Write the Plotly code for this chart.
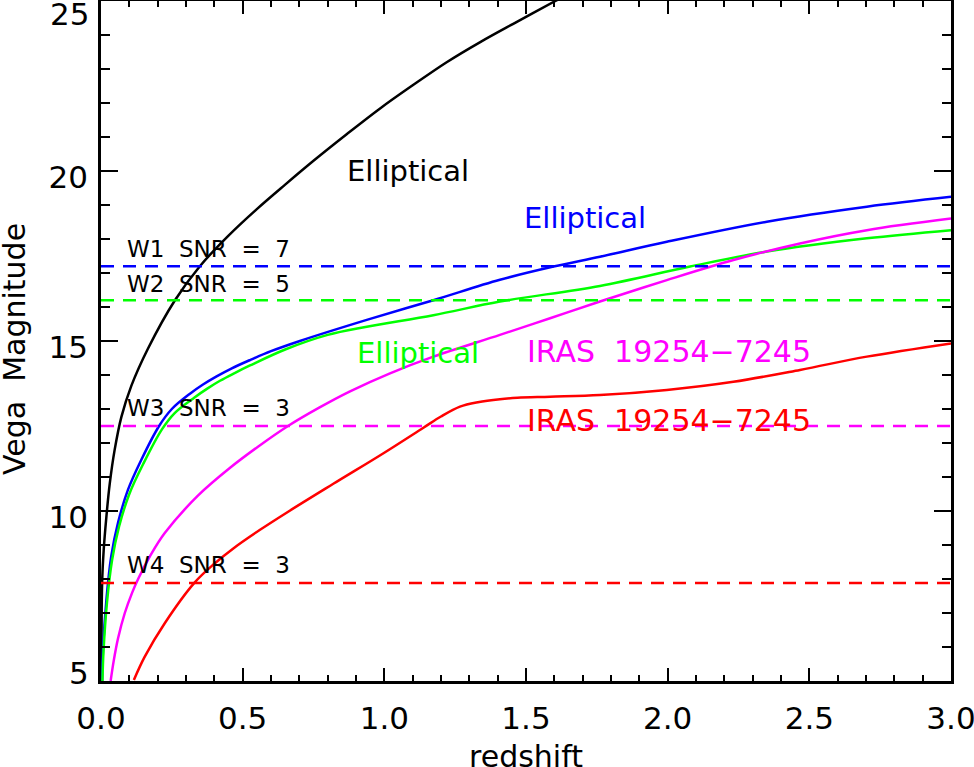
import plotly.graph_objects as go

# redshift / Vega magnitude tracks
black_z = [0.0015, 0.004, 0.0095, 0.019, 0.031, 0.048, 0.072, 0.107, 0.166, 0.261, 0.349, 0.45,
           0.55, 0.65, 0.75, 0.867, 0.985, 1.1, 1.22, 1.34, 1.455, 1.597, 1.70]
black_m = [5.0, 7.9, 8.85, 9.83, 10.81, 11.79, 12.77, 13.68, 14.78, 16.2, 17.2, 18.1,
           18.88, 19.6, 20.3, 21.08, 21.84, 22.52, 23.2, 23.8, 24.33, 24.97, 25.43]

blue_z = [0.004, 0.007, 0.019, 0.036, 0.06, 0.095, 0.142, 0.205, 0.25, 0.314, 0.36, 0.408,
          0.46, 0.526, 0.6, 0.702, 0.938, 1.173, 1.408, 1.597, 1.761, 1.997, 2.35, 2.703, 3.0]
blue_m = [5.0, 5.9, 7.38, 8.66, 9.65, 10.62, 11.5, 12.5, 13.0, 13.45, 13.72, 13.96,
          14.19, 14.44, 14.7, 15.0, 15.62, 16.2, 16.8, 17.19, 17.48, 17.92, 18.51, 18.95, 19.24]

green_z = [0.005, 0.009, 0.021, 0.039, 0.064, 0.1, 0.15, 0.215, 0.26, 0.33, 0.375, 0.42,
           0.47, 0.526, 0.65, 0.8, 0.938, 1.173, 1.408, 1.761, 2.079, 2.35, 2.703, 3.0]
green_m = [5.0, 5.9, 7.3, 8.55, 9.55, 10.5, 11.4, 12.4, 12.88, 13.34, 13.6, 13.83,
           14.05, 14.28, 14.75, 15.18, 15.42, 15.76, 16.16, 16.62, 17.19, 17.63, 18.02, 18.26]

magenta_z = [0.034, 0.045, 0.06, 0.084, 0.11, 0.131, 0.175, 0.225, 0.342, 0.46, 0.554, 0.66,
             0.77, 0.879, 1.02, 1.173, 1.408, 1.585, 1.761, 1.997, 2.232, 2.467, 2.703, 3.0]
magenta_m = [5.0, 5.6, 6.25, 7.0, 7.6, 8.0, 8.7, 9.35, 10.45, 11.3, 11.89, 12.5,
             13.04, 13.52, 14.05, 14.54, 15.18, 15.67, 16.16, 16.79, 17.38, 17.87, 18.26, 18.6]

red_z = [0.116, 0.154, 0.225, 0.331, 0.4, 0.467, 0.56, 0.655, 0.82, 0.997, 1.138, 1.2,
         1.267, 1.33, 1.408, 1.47, 1.585, 1.761, 1.997, 2.232, 2.467, 2.703, 3.0]
red_m = [5.03, 5.71, 6.7, 7.9, 8.45, 8.9, 9.44, 9.95, 10.8, 11.7, 12.45, 12.78,
         13.07, 13.2, 13.29, 13.33, 13.36, 13.41, 13.56, 13.8, 14.15, 14.54, 14.93]

# detection limits (W1..W4)
snr_labels = ["W1  SNR  =  7", "W2  SNR  =  5", "W3  SNR  =  3", "W4  SNR  =  3"]
snr_limits = [17.2, 16.2, 12.5, 7.88]
snr_colors = ["#0000ff", "#00ff00", "#ff00ff", "#ff0000"]

# y tick labels; the two end labels are nudged inside the frame like the original
y_ticks = [5, 10, 15, 20, 25]
y_tick_text = ["5", "10", "15", "20", "25"]

x_range = [0, 3]

fig = go.Figure()

curves = [
    (black_z, black_m, "black"),
    (blue_z, blue_m, "#0000ff"),
    (green_z, green_m, "#00ff00"),
    (magenta_z, magenta_m, "#ff00ff"),
    (red_z, red_m, "#ff0000"),
]
for zz, mm, col in curves:
    fig.add_trace(go.Scatter(x=zz, y=mm, mode="lines",
                             line=dict(color=col, width=2.5, shape="spline", smoothing=1.0)))

for lim, col in zip(snr_limits, snr_colors):
    fig.add_trace(go.Scatter(x=x_range, y=[lim, lim], mode="lines",
                             line=dict(color=col, width=2.5, dash="13px,9px")))

font = "DejaVu Sans"

# SNR labels, placed just above each limit line
label_y = [17.72, 16.69, 13.02, 8.41]
for txt, yy in zip(snr_labels, label_y):
    fig.add_annotation(x=0.085, y=yy, text=txt.replace(" ", "\u00a0"), showarrow=False,
                       xanchor="left", yanchor="middle",
                       font=dict(family=font, size=23, color="black"))

# track names
fig.add_annotation(x=1.082, y=20.0, text="Elliptical", showarrow=False,
                   font=dict(family=font, size=29, color="black"))
fig.add_annotation(x=1.708, y=18.63, text="Elliptical", showarrow=False,
                   font=dict(family=font, size=29, color="#0000ff"))
fig.add_annotation(x=1.12, y=14.64, text="Elliptical", showarrow=False,
                   font=dict(family=font, size=29, color="#00ff00"))
fig.add_annotation(x=2.003, y=14.7, text="IRAS\u00a0\u00a019254\u22127245", showarrow=False,
                   font=dict(family=font, size=30, color="#ff00ff"))
fig.add_annotation(x=2.003, y=12.65, text="IRAS\u00a0\u00a019254\u22127245", showarrow=False,
                   font=dict(family=font, size=30, color="#ff0000"))

# axis titles (axis title placement is clamped inside the margins, so place them by hand)
fig.add_annotation(x=0.5, y=0, xref="paper", yref="paper", yshift=-75,
                   text="redshift", showarrow=False, xanchor="center", yanchor="middle",
                   font=dict(family=font, size=30, color="black"))
fig.add_annotation(x=0, y=0.5, xref="paper", yref="paper", xshift=-87, yshift=-8,
                   text="Vega\u00a0\u00a0Magnitude", textangle=-90, showarrow=False,
                   xanchor="center", yanchor="middle",
                   font=dict(family=font, size=30, color="black"))

# end labels of the y axis, kept inside the figure
for val, txt, shift in [(y_ticks[0], y_tick_text[0], 8), (y_ticks[-1], y_tick_text[-1], -13)]:
    fig.add_annotation(x=0, y=val, xref="paper", yref="y", xshift=-10, yshift=shift,
                       text=txt, showarrow=False, xanchor="right", yanchor="middle",
                       font=dict(family=font, size=31, color="black"))

axis_common = dict(
    showline=True, linecolor="black", linewidth=2.5, mirror="allticks",
    ticks="inside", tickcolor="black", tickwidth=2,
    showgrid=False, zeroline=False, ticklabeloverflow="allow", automargin=False,
    tickfont=dict(family=font, size=31, color="black"),
)

fig.update_xaxes(
    range=x_range, dtick=0.5, tick0=0, tickformat=".1f", ticklen=13,
    minor=dict(dtick=0.1, ticks="inside", ticklen=6.5, tickwidth=2, tickcolor="black", showgrid=False),
    ticklabelstandoff=8,
    **axis_common,
)
fig.update_yaxes(
    range=[5, 25], tickvals=y_ticks,
    ticktext=[""] + y_tick_text[1:-1] + [""], ticklen=17,
    minor=dict(dtick=1, ticks="inside", ticklen=9, tickwidth=2, tickcolor="black", showgrid=False),
    ticklabelstandoff=4, ticklabelshift=6,
    **axis_common,
)

fig.update_layout(
    width=974, height=767,
    margin=dict(l=101, r=23, t=1, b=86),
    plot_bgcolor="white", paper_bgcolor="white",
    showlegend=False,
)

# the page's default 8px body margin would shift the figure off the window
fig.write_html("out.html", config={"displayModeBar": False},
               post_script="document.body.style.margin='0px';")
